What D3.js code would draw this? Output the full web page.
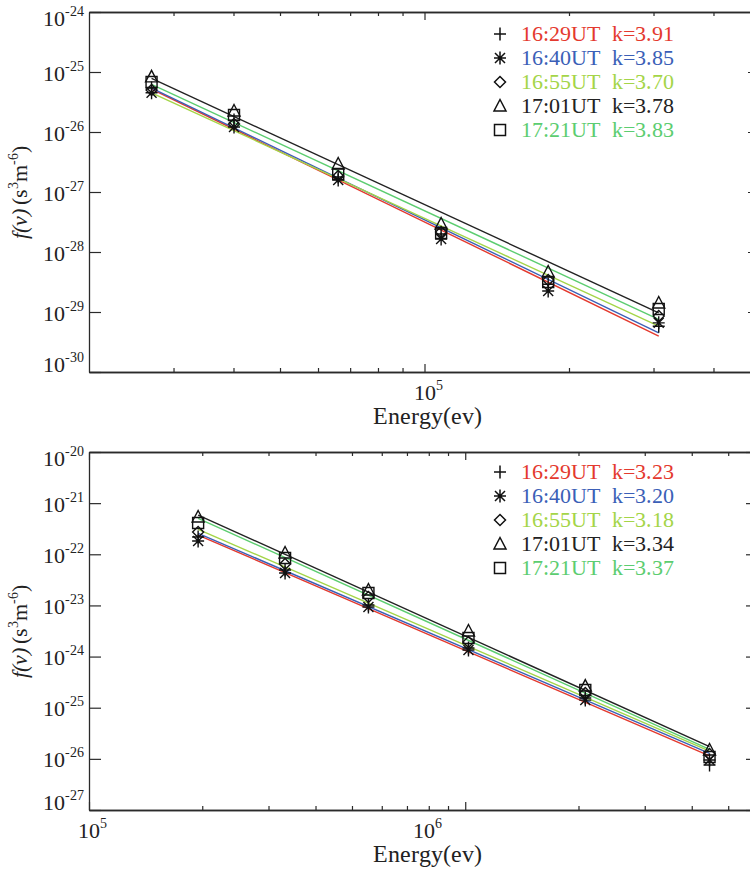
<!DOCTYPE html>
<html>
<head>
<meta charset="utf-8">
<script src="https://cdn.jsdelivr.net/npm/d3@7"></script>
<style>
  @font-face { font-family: "RefSerif"; font-style: normal; font-weight: 400;
    src: local("Liberation Serif"), local("LiberationSerif"), local("Liberation Serif Regular"), local("Tinos"), local("Tinos Regular"); }
  @font-face { font-family: "RefSerif"; font-style: italic; font-weight: 400;
    src: local("Liberation Serif Italic"), local("LiberationSerif-Italic"), local("Tinos Italic"); }
  html, body { margin: 0; padding: 0; background: #fff; }
  svg { display: block; font-family: "RefSerif", "Liberation Serif", Tinos, serif; }
</style>
</head>
<body>
<svg id="chart" width="750" height="870"></svg>
<script>
// ---------------- DATA ----------------
const seriesNames = ["16:29UT", "16:40UT", "16:55UT", "17:01UT", "17:21UT"];
const seriesColors = ["#e4392e", "#3b5fb7", "#a4d548", "#222222", "#5ccd70"];
const seriesSymbols = ["plus", "asterisk", "diamond", "triangle", "square"];

// Top panel
const kTop = ["3.91", "3.85", "3.70", "3.78", "3.83"];
const energyTop = [27.0e3, 40.1e3, 66.1e3, 108.3e3, 181e3, 307.6e3];
const fTop1629 = [5.4e-26, 1.58e-26, 1.78e-27, 2.0e-28, 2.9e-29, 5.8e-30];
const fTop1640 = [4.5e-26, 1.21e-26, 1.58e-27, 1.65e-28, 2.24e-29, 6.6e-30];
const fTop1655 = [5.0e-26, 1.36e-26, 1.85e-27, 2.15e-28, 3.4e-29, 8.6e-30];
const fTop1701 = [8.3e-26, 2.24e-26, 2.93e-27, 2.93e-28, 4.64e-29, 1.41e-29];
const fTop1721 = [6.8e-26, 1.92e-26, 2.0e-27, 2.07e-28, 3.16e-29, 1.12e-29];
// fitted line values at first and last energy
const fitTopStart = [5.2e-26, 5.4e-26, 4.5e-26, 7.8e-26, 6.24e-26];
const fitTopEnd   = [3.98e-30, 4.5e-30, 5.84e-30, 9.7e-30, 7.56e-30];
const yTicksTop = [-30, -29, -28, -27, -26, -25, -24];
const xMajorTop = [1e5];
const xMinorTop = [3e4, 4e4, 5e4, 6e4, 7e4, 8e4, 9e4, 2e5, 3e5, 4e5];

// Bottom panel
const kBot = ["3.23", "3.20", "3.18", "3.34", "3.37"];
const energyBot = [195e3, 332e3, 553e3, 1.02e6, 2.085e6, 4.46e6];
const fBot1629 = [2.18e-22, 4.93e-23, 1.02e-23, 1.47e-24, 1.55e-25, 7.6e-27];
const fBot1640 = [1.82e-22, 4.3e-23, 9.3e-24, 1.34e-24, 1.41e-25, 9.5e-27];
const fBot1655 = [2.73e-22, 6.45e-23, 1.46e-23, 1.93e-24, 1.94e-25, 1.24e-26];
const fBot1701 = [5.36e-22, 1.06e-22, 2.0e-23, 3.16e-24, 2.65e-25, 1.49e-26];
const fBot1721 = [4.09e-22, 8.45e-23, 1.75e-23, 2.31e-24, 2.22e-25, 1.09e-26];
const fitBotStart = [2.38e-22, 2.57e-22, 3.08e-22, 5.86e-22, 5.06e-22];
const fitBotEnd   = [1.14e-26, 1.28e-26, 1.42e-26, 1.73e-26, 1.54e-26];
const yTicksBot = [-27, -26, -25, -24, -23, -22, -21, -20];
const xMajorBot = [1e5, 1e6];
const xMinorBot = [2e5, 3e5, 4e5, 5e5, 6e5, 7e5, 8e5, 9e5, 2e6, 3e6, 4e6, 5e6];

// ---------------- DRAW ----------------
const svg = d3.select("#chart");
const AX = "#2a2a2a";
const TXT = "#222";
const FONT = '"RefSerif", "Liberation Serif", Tinos, serif';

function addText(g) {
  return g.append("text").style("font-family", FONT).attr("fill", TXT);
}

function markerPath(type, cx, cy) {
  const p = d3.path();
  if (type === "plus") {
    p.moveTo(cx - 6, cy); p.lineTo(cx + 6, cy);
    p.moveTo(cx, cy - 6.5); p.lineTo(cx, cy + 6.5);
  } else if (type === "asterisk") {
    p.moveTo(cx, cy - 6.5); p.lineTo(cx, cy + 6.5);
    p.moveTo(cx - 6, cy); p.lineTo(cx + 6, cy);
    p.moveTo(cx - 5, cy - 5); p.lineTo(cx + 5, cy + 5);
    p.moveTo(cx - 5, cy + 5); p.lineTo(cx + 5, cy - 5);
  } else if (type === "diamond") {
    p.moveTo(cx, cy - 5.5); p.lineTo(cx + 5.5, cy); p.lineTo(cx, cy + 5.5); p.lineTo(cx - 5.5, cy); p.closePath();
  } else if (type === "triangle") {
    p.moveTo(cx, cy - 6.5); p.lineTo(cx + 6, cy + 5); p.lineTo(cx - 6, cy + 5); p.closePath();
  } else if (type === "square") {
    p.rect(cx - 5.5, cy - 5.5, 11, 11);
  }
  return p.toString();
}

function supLabel(sel, base, exp, supSize) {
  sel.append("tspan").text(base);
  sel.append("tspan").attr("dy", -10).attr("font-size", supSize).text(exp);
}

function drawPanel(cfg) {
  const x = d3.scaleLog().domain(cfg.xDomain).range([cfg.left, cfg.right]);
  const y = d3.scaleLog().domain(cfg.yDomain).range([cfg.bottom, cfg.top]);
  const g = svg.append("g");

  const styleAxis = sel => {
    sel.attr("font-family", null).attr("font-size", null);
    sel.selectAll("path.domain").attr("stroke", AX).attr("stroke-width", 1.3);
    sel.selectAll(".tick line").attr("stroke", AX).attr("stroke-width", 1.2);
    sel.selectAll(".tick text").remove();
  };
  const yVals = cfg.yTicks.map(e => Math.pow(10, e));

  g.append("g").attr("transform", `translate(0,${cfg.bottom})`)
    .call(d3.axisBottom(x).tickValues(cfg.xMinor).tickSize(-4).tickSizeOuter(0).tickFormat(""))
    .call(styleAxis);
  g.append("g").attr("transform", `translate(0,${cfg.bottom})`)
    .call(d3.axisBottom(x).tickValues(cfg.xMajor).tickSize(-8).tickSizeOuter(0).tickFormat(""))
    .call(styleAxis);
  g.append("g").attr("transform", `translate(0,${cfg.top})`)
    .call(d3.axisTop(x).tickValues(cfg.xMinor).tickSize(-4).tickSizeOuter(0).tickFormat(""))
    .call(styleAxis);
  g.append("g").attr("transform", `translate(0,${cfg.top})`)
    .call(d3.axisTop(x).tickValues(cfg.xMajor).tickSize(-8).tickSizeOuter(0).tickFormat(""))
    .call(styleAxis);
  g.append("g").attr("transform", `translate(${cfg.left},0)`)
    .call(d3.axisLeft(y).tickValues(yVals).tickSize(-12).tickSizeOuter(0).tickFormat(""))
    .call(styleAxis);
  g.append("g").attr("transform", `translate(${cfg.right},0)`)
    .call(d3.axisRight(y).tickValues(yVals).tickSize(-12).tickSizeOuter(0).tickFormat(""))
    .call(styleAxis);

  // y tick labels
  cfg.yTicks.forEach(e => {
    const ty = y(Math.pow(10, e));
    const base = Math.min(Math.max(ty + 8.5, cfg.top + 14), cfg.bottom);
    const t = addText(g).attr("x", cfg.left - 5).attr("y", base)
      .attr("text-anchor", "end").attr("font-size", 22);
    supLabel(t, "10", String(e), 14);
  });
  // x tick labels
  cfg.xMajor.forEach((v, i) => {
    const e = Math.round(Math.log10(v));
    const t = addText(g).attr("x", x(v) + 3.5 + (cfg.xLabelShift[i] || 0)).attr("y", cfg.bottom + 28)
      .attr("text-anchor", "middle").attr("font-size", 22);
    supLabel(t, "10", String(e), 14);
  });
  // x axis title
  addText(g).attr("x", 427).attr("y", cfg.bottom + 52)
    .attr("text-anchor", "middle").attr("font-size", 24).text("Energy(ev)");
  // y axis title
  const cy = (cfg.top + cfg.bottom) / 2;
  const yt = addText(g).attr("transform", `translate(27,${cy}) rotate(-90)`)
    .attr("text-anchor", "middle").attr("font-size", 22);
  yt.append("tspan").attr("font-style", "italic").text("f(v)");
  yt.append("tspan").text("\u2009(s");
  yt.append("tspan").attr("dy", -9).attr("font-size", 14).text("3");
  yt.append("tspan").attr("dy", 9).text("m");
  yt.append("tspan").attr("dy", -9).attr("font-size", 14).text("-6");
  yt.append("tspan").attr("dy", 9).text(")");

  // fit lines
  const line = d3.line().x(d => x(d[0])).y(d => y(d[1]));
  const e0 = cfg.energy[0], e1 = cfg.energy[cfg.energy.length - 1];
  cfg.fitStart.forEach((v, i) => {
    g.append("path").attr("d", line([[e0, v], [e1, cfg.fitEnd[i]]]))
      .attr("fill", "none").attr("stroke", seriesColors[i]).attr("stroke-width", 1.4);
  });
  // markers
  cfg.values.forEach((vals, i) => {
    vals.forEach((v, j) => {
      g.append("path").attr("d", markerPath(seriesSymbols[i], x(cfg.energy[j]), y(v)))
        .attr("fill", "none").attr("stroke", "#111").attr("stroke-width", 1.4);
    });
  });

  // legend
  seriesNames.forEach((name, i) => {
    const by = cfg.legendTop + i * 24;
    g.append("path").attr("d", markerPath(seriesSymbols[i], 500, by - 7))
      .attr("fill", "none").attr("stroke", "#111").attr("stroke-width", 1.5);
    addText(g).attr("x", 521).attr("y", by).attr("font-size", 22)
      .attr("fill", seriesColors[i]).text(name);
    addText(g).attr("x", 612).attr("y", by).attr("font-size", 22)
      .attr("fill", seriesColors[i]).text("k=" + cfg.k[i]);
  });
}

drawPanel({
  xDomain: [2e4, 5e5], yDomain: [1e-30, 1e-24],
  left: 89, right: 760, top: 12, bottom: 372,
  yTicks: yTicksTop, xMajor: xMajorTop, xMinor: xMinorTop, xLabelShift: [0],
  energy: energyTop,
  values: [fTop1629, fTop1640, fTop1655, fTop1701, fTop1721],
  fitStart: fitTopStart, fitEnd: fitTopEnd, k: kTop, legendTop: 41
});
drawPanel({
  xDomain: [1e5, 6e6], yDomain: [1e-27, 1e-20],
  left: 89, right: 758, top: 452, bottom: 810,
  yTicks: yTicksBot, xMajor: xMajorBot, xMinor: xMinorBot, xLabelShift: [0, -41],
  energy: energyBot,
  values: [fBot1629, fBot1640, fBot1655, fBot1701, fBot1721],
  fitStart: fitBotStart, fitEnd: fitBotEnd, k: kBot, legendTop: 479
});
</script>
</body>
</html>
